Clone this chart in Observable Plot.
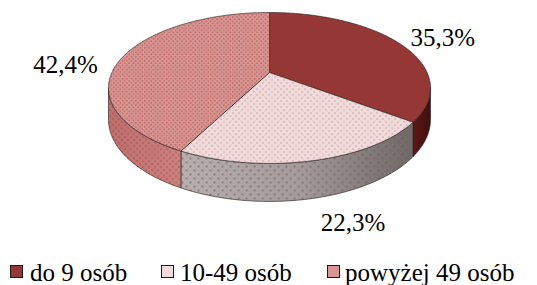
<!DOCTYPE html>
<html><head><meta charset="utf-8">
<script src="https://cdn.jsdelivr.net/npm/d3@7"></script>
<script src="https://cdn.jsdelivr.net/npm/@observablehq/plot@0.6"></script>
<style>
html,body{margin:0;padding:0;background:#fff;}
body{position:relative;width:537px;height:285px;overflow:hidden;font-family:"DejaVu Serif","Liberation Serif",serif;}
#chart{position:absolute;left:0;top:0;}
.leg{position:absolute;top:260px;font-size:25px;line-height:25px;color:#000;white-space:nowrap;font-family:"Liberation Serif","DejaVu Serif",serif;}
.sw{position:absolute;top:265px;width:11px;height:11px;border:1.6px solid #1a1a1a;}
</style></head><body>
<svg width="0" height="0" style="position:absolute">
<defs>
  <pattern id="dots2" width="6" height="6" patternUnits="userSpaceOnUse">
    <rect width="6" height="6" fill="#f2dcdb"/>
    <circle cx="1.5" cy="1.5" r="0.8" fill="#b79494"/>
    <circle cx="4.5" cy="4.5" r="0.8" fill="#b79494"/>
  </pattern>
  <pattern id="dots3" width="4.4" height="4.4" patternUnits="userSpaceOnUse">
    <rect width="4.4" height="4.4" fill="#d99694"/>
    <circle cx="1.1" cy="1.1" r="0.8" fill="#b8625f"/>
    <circle cx="3.3" cy="3.3" r="0.8" fill="#b8625f"/>
  </pattern>
  <pattern id="sdots2" width="8" height="8" patternUnits="userSpaceOnUse">
    <circle cx="2" cy="2" r="1" fill="#6f6060" fill-opacity="0.8"/>
    <circle cx="6" cy="6" r="1" fill="#6f6060" fill-opacity="0.8"/>
  </pattern>
  <pattern id="sdots3" width="6" height="6" patternUnits="userSpaceOnUse">
    <circle cx="1.5" cy="1.5" r="1" fill="#9a4a48" fill-opacity="0.8"/>
    <circle cx="4.5" cy="4.5" r="1" fill="#9a4a48" fill-opacity="0.8"/>
  </pattern>
  <linearGradient id="side1" gradientUnits="userSpaceOnUse" x1="400" x2="432" y1="0" y2="0">
    <stop offset="0" stop-color="#6a1f1d"/><stop offset="1" stop-color="#3f0d0c"/>
  </linearGradient>
  <linearGradient id="side2" gradientUnits="userSpaceOnUse" x1="180" x2="415" y1="0" y2="0">
    <stop offset="0" stop-color="#b9aeae"/><stop offset="0.5" stop-color="#a69b9b"/><stop offset="1" stop-color="#6f6666"/>
  </linearGradient>
  <linearGradient id="side3" gradientUnits="userSpaceOnUse" x1="108" x2="182" y1="0" y2="0">
    <stop offset="0" stop-color="#c0706e"/><stop offset="1" stop-color="#cf8482"/>
  </linearGradient>
</defs>
</svg>
<div id="chart"></div>
<script>
// ---- data ----
const categories = ["do 9 osób", "10-49 osób", "powyżej 49 osób"];
const values = [35.3, 22.3, 42.4];
const labels = ["35,3%", "22,3%", "42,4%"];

// ---- layout / style ----
const W = 537, H = 252;
const cx = 269, cy0 = 72, Sx = 157.6, Sy = 72.3, persp = 0.205, depthH = 30.2;
const topFill = ["#953735", "url(#dots2)", "url(#dots3)"];
const sideFill = ["url(#side1)", "url(#side2)", "url(#side3)"];
const sideDots = [null, "url(#sdots2)", "url(#sdots3)"];
const legendColors = ["#953735", "#f2dcdb", "#d99694"];
const labelNudge = [[44, 3], [40, 33], [-58, 17]];
const serif = "'Liberation Serif', 'DejaVu Serif', serif";

const total = d3.sum(values);
let acc = 0;
const slices = values.map((v, i) => {
  const a0 = acc / total * 2 * Math.PI; acc += v;
  return {i, a0, a1: acc / total * 2 * Math.PI};
});
function proj(a, r = 1, drop = 0) {
  const X = r * Math.sin(a), Z = -r * Math.cos(a);
  const k = 1 - persp * Z;
  return {x: cx + Sx * X / k, y: cy0 + Sy * Z / k + drop * depthH / k};
}
function arc(a0, a1, drop) {
  const n = Math.max(2, Math.ceil((a1 - a0) / 0.01));
  return d3.range(n + 1).map(j => proj(a0 + (a1 - a0) * j / n, 1, drop));
}
const tops = slices.map(s => {
  const c = proj(0, 0);
  const pts = [c, ...arc(s.a0, s.a1, 0), c];
  return pts.map(p => ({...p, i: s.i}));
});
const visLo = Math.PI - Math.acos(persp), visHi = Math.PI + Math.acos(persp);
const sides = slices.map(s => {
  const lo = Math.max(s.a0, visLo), hi = Math.min(s.a1, visHi);
  if (hi <= lo) return [];
  const upper = arc(lo, hi, 0), lower = arc(lo, hi, 1).reverse();
  const pts = [...upper, ...lower, upper[0]];
  return pts.map(p => ({...p, i: s.i}));
});
const labelData = slices.map(s => {
  const m = (s.a0 + s.a1) / 2;
  const p = proj(m, 1, Math.cos(m) < 0 ? 1 : 0);
  return {x: p.x + labelNudge[s.i][0], y: p.y + labelNudge[s.i][1], text: labels[s.i]};
});

const marks = [];
slices.forEach(s => {
  if (sides[s.i].length) {
    marks.push(Plot.line(sides[s.i], {x: "x", y: "y", fill: sideFill[s.i], stroke: "none"}));
    if (sideDots[s.i]) marks.push(Plot.line(sides[s.i], {x: "x", y: "y", fill: sideDots[s.i], stroke: "none"}));
    marks.push(Plot.line(sides[s.i], {x: "x", y: "y", stroke: "#2e2626", strokeWidth: 0.8, strokeOpacity: 0.85}));
  }
});
slices.forEach(s => {
  marks.push(Plot.line(tops[s.i], {x: "x", y: "y", fill: topFill[s.i], stroke: "#2e2626", strokeWidth: 0.8, strokeOpacity: 0.85}));
});
marks.push(Plot.text(labelData, {x: "x", y: "y", text: "text", textAnchor: "middle", lineAnchor: "bottom",
  fontSize: 25, fontFamily: serif, fill: "#000"}));

const chart = Plot.plot({
  width: W, height: H,
  marginTop: 0, marginRight: 0, marginBottom: 0, marginLeft: 0,
  x: {domain: [0, W], range: [0, W], axis: null},
  y: {domain: [0, H], range: [0, H], axis: null},
  style: {background: "transparent", overflow: "visible", fontFamily: serif},
  marks
});
document.getElementById("chart").appendChild(chart);

// legend
const swX = [10, 161, 327], txX = [30, 180, 345];
categories.forEach((c, i) => {
  const sw = document.createElement("div");
  sw.className = "sw"; sw.style.left = swX[i] + "px"; sw.style.background = legendColors[i];
  document.body.appendChild(sw);
  const t = document.createElement("div");
  t.className = "leg"; t.style.left = txX[i] + "px"; t.textContent = c;
  document.body.appendChild(t);
});
</script>
</body></html>
